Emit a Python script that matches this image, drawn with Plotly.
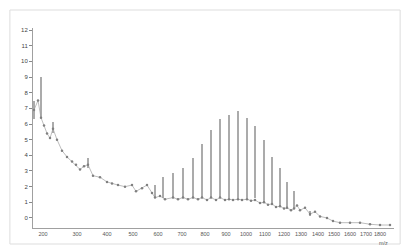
import plotly.graph_objects as go

# Continuous (baseline / decay) series: channel position and intensity
curve_x = [1, 5, 8, 11, 14, 17, 20, 24, 29, 34, 39, 43, 47, 51, 55, 60, 67, 74, 79, 85,
           92, 99, 103, 109, 114, 119, 122, 127, 132, 140, 145, 150, 155, 160, 165, 169,
           174, 178, 183, 187, 192, 196, 200, 205, 209, 214, 218, 222, 227, 231, 235, 239,
           243, 247, 251, 254, 258, 261, 264, 267, 272, 277, 282, 287, 294, 300, 307, 317,
           327, 337, 347, 357]
curve_y = [6.9, 7.5, 6.4, 5.9, 5.4, 5.1, 5.7, 5.0, 4.3, 3.9, 3.6, 3.4, 3.1, 3.3, 3.4, 2.7,
           2.6, 2.3, 2.2, 2.1, 2.0, 2.1, 1.7, 1.9, 2.1, 1.6, 1.3, 1.4, 1.2, 1.3, 1.2, 1.3,
           1.2, 1.3, 1.2, 1.3, 1.15, 1.3, 1.15, 1.3, 1.15, 1.2, 1.15, 1.2, 1.15, 1.2, 1.1,
           1.15, 0.95, 1.0, 0.85, 0.9, 0.7, 0.75, 0.6, 0.65, 0.5, 0.6, 0.8, 0.5, 0.65, 0.25,
           0.4, 0.1, 0.0, -0.2, -0.3, -0.3, -0.3, -0.4, -0.45, -0.45]

# Vertical sticks: position, low and high value
stick_x = [1, 8, 20, 55, 122, 130, 140, 150, 160, 169, 178, 187, 196, 205, 214, 222,
           231, 239, 247, 254, 261, 277]
stick_lo = [6.3, 6.4, 5.4, 3.2, 1.3, 1.3, 1.3, 1.3, 1.3, 1.3, 1.3, 1.3, 1.3, 1.3, 1.3,
            1.3, 1.0, 0.9, 0.75, 0.65, 0.6, 0.1]
stick_hi = [7.5, 9.0, 6.1, 3.8, 2.1, 2.6, 2.9, 3.2, 3.8, 4.7, 5.6, 6.3, 6.6, 6.8, 6.4,
            5.9, 5.0, 3.9, 3.2, 2.3, 1.7, 0.45]

# Axis ticks
x_tick_pos = [10, 44, 74, 100, 125, 149, 172, 193, 213, 232, 251, 268, 285, 301, 317, 333, 347]
x_tick_text = ["200", "300", "400", "500", "600", "700", "800", "900", "1000", "1100",
               "1200", "1300", "1400", "1500", "1600", "1700", "1800"]
y_tick_vals = list(range(0, 13))
y_tick_text = [str(v) for v in y_tick_vals]

fig = go.Figure()
fig.add_trace(go.Bar(
    x=stick_x,
    y=[h - l for h, l in zip(stick_hi, stick_lo)],
    base=stick_lo,
    width=2,
    marker=dict(color="#ababab", line=dict(width=0)),
    showlegend=False,
))
fig.add_trace(go.Scatter(
    x=curve_x, y=curve_y, mode="lines+markers",
    line=dict(color="#a0a0a0", width=0.7),
    marker=dict(color="#808080", size=2.5, symbol="circle"),
    showlegend=False,
))

fig.update_layout(
    width=406, height=248,
    margin=dict(l=33, r=12, t=28, b=20),
    paper_bgcolor="white", plot_bgcolor="white",
    font=dict(family="Liberation Sans", size=6, color="#555555"),
    bargap=0,
    xaxis=dict(range=[0, 361], tickmode="array", tickvals=x_tick_pos, ticktext=x_tick_text,
               tickangle=0, automargin=False,
               showgrid=False, zeroline=False, showline=True, linecolor="#a0a0a0",
               linewidth=1, ticks="", tickfont=dict(size=5.5, color="#555555")),
    yaxis=dict(range=[-0.64, 12.13], tickmode="array", tickvals=y_tick_vals, ticktext=y_tick_text,
               automargin=False,
               showgrid=False, zeroline=False, showline=True, linecolor="#a0a0a0",
               linewidth=1, ticks="outside", ticklen=3, tickcolor="#888888",
               tickfont=dict(size=6, color="#444444")),
    shapes=[dict(type="rect", xref="paper", yref="paper", x0=-0.064, x1=1.017, y0=-0.08, y1=1.09,
                 line=dict(color="#dddddd", width=1))],
    annotations=[
        dict(text="m/z", xref="paper", yref="paper", x=0.97, y=-0.075, showarrow=False,
             font=dict(size=5.5, color="#666666"), xanchor="center", yanchor="middle"),
    ],
)

fig.write_html("out.html", config={"displayModeBar": False},
               post_script="document.body.style.margin='0';")
